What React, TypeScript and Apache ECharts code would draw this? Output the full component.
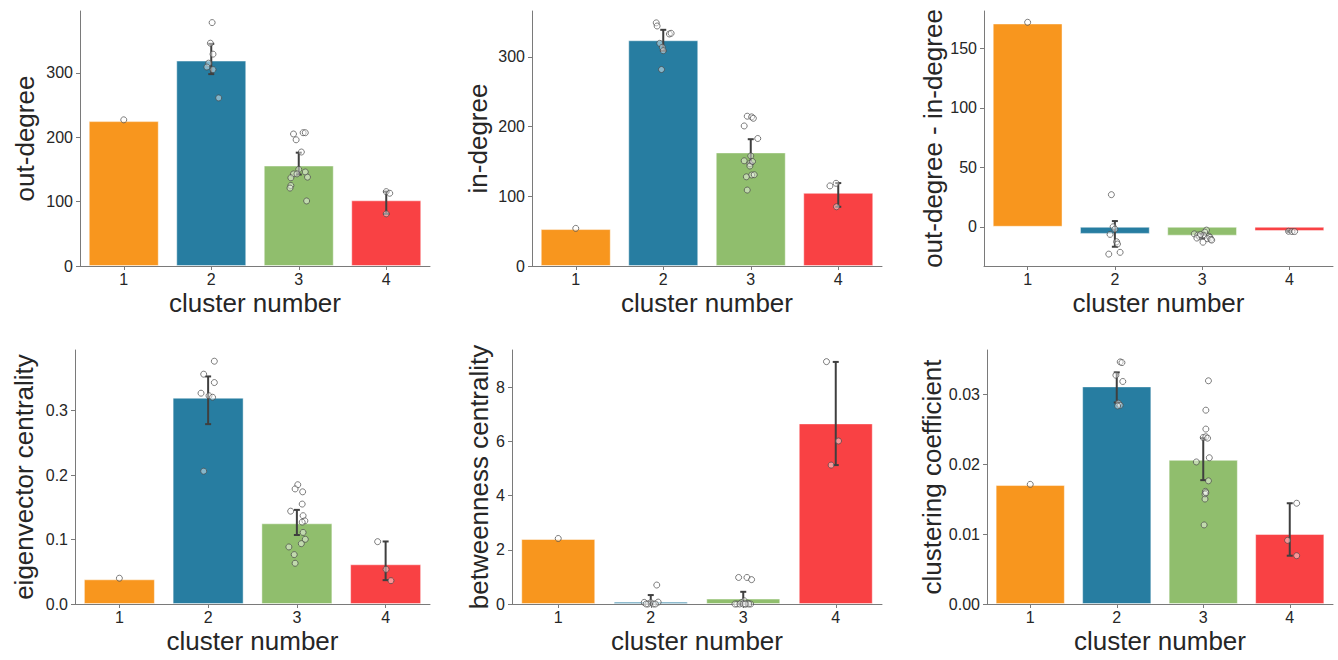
import React, { useEffect, useRef } from "react";
import * as echarts from "echarts";

const categories = ["1", "2", "3", "4"];
const barColors = ["#F8961E", "#277DA1", "#90BE6D", "#F94144"];

// out-degree
const outMeans = [225, 319, 156, 102];
const outLo = [null, 298, 142, 81];
const outHi = [null, 345, 176, 115.5];
const outPts = [[227], [378, 346, 329, 315, 309, 305, 261], [205, 196, 207, 207, 177, 150, 143, 137, 143, 146, 138, 125, 121, 101], [115.5, 113, 81]];
const outJit = [[0], [0.01, -0.01, 0.02, -0.03, -0.05, 0.02, 0.085], [-0.06, -0.03, 0.05, 0.075, 0.03, 0, -0.06, -0.09, -0.02, 0.075, 0.1, -0.09, -0.1, 0.09], [0, 0.04, 0]];
const outTicks = [0, 100, 200, 300];

// in-degree
const inMeans = [53, 324, 163, 105];
const inLo = [null, 309, 147, 85];
const inHi = [null, 339, 182, 119];
const inPts = [[54], [349, 344.5, 333, 334, 319.6, 314, 309, 282], [215, 214, 212, 201, 183, 158, 151, 147, 143.5, 130.6, 131, 109, 150, 128], [115, 118.7, 85]];
const inJit = [[0], [-0.08, -0.07, 0.07, 0.09, -0.04, -0.01, 0, -0.02], [-0.04, 0.01, 0.03, -0.075, 0.08, 0, -0.075, -0.01, -0.01, 0.01, 0.04, -0.04, 0.02, -0.05], [-0.095, -0.025, -0.02]];
const inTicks = [0, 100, 200, 300];

// out-degree - in-degree
const diffMeans = [171, -6, -7.5, -3.6];
const diffLo = [null, -16.8, -9.5, -4.2];
const diffHi = [null, 4.8, -6, -3.2];
const diffPts = [[172], [27, 0, -6.4, -12.6, -14.5, -23, -21.5, -2], [-2.8, -4.5, -6, -7, -7.5, -8, -8.4, -9, -9.5, -10, -10.6, -11.2, -13, -6.5], [-3.8, -4, -4]];
const diffJit = [[0], [-0.04, -0.02, -0.055, 0.02, 0.03, -0.07, 0.06, 0], [0.05, 0.03, -0.09, -0.05, 0.02, 0.08, -0.03, 0.09, -0.06, 0.06, 0.1, 0.11, 0.01, -0.02], [-0.01, 0.03, 0.06]];
const diffTicks = [0, 50, 100, 150];

// eigenvector centrality
const eigMeans = [0.0383, 0.32, 0.1252, 0.0616];
const eigLo = [null, 0.279, 0.107, 0.037];
const eigHi = [null, 0.353, 0.146, 0.097];
const eigPts = [[0.04], [0.3766, 0.3565, 0.3435, 0.327, 0.323, 0.3207, 0.206], [0.185, 0.1785, 0.174, 0.155, 0.144, 0.137, 0.129, 0.127, 0.111, 0.1004, 0.0936, 0.0885, 0.0766, 0.0632], [0.0967, 0.0538, 0.0362]];
const eigJit = [[0], [0.07, -0.05, 0.07, -0.08, 0.01, 0.05, -0.05], [0.01, -0.02, 0.065, 0.06, -0.07, 0.07, 0.09, 0.06, 0.07, 0.095, 0.05, -0.09, -0.03, -0.02], [-0.09, 0.005, 0.06]];
const eigTicks = [0, 0.1, 0.2, 0.3];

// betweenness centrality
const betMeans = [2.4, 0.085, 0.2, 6.67];
const betLo = [null, 0, 0, 5.13];
const betHi = [null, 0.33, 0.45, 8.94];
const betPts = [[2.42], [0.7, 0.06, 0.07, 0.05, 0, 0, 0, 0], [0.98, 0.98, 0.9, 0.12, 0.05, 0.03, 0, 0, 0, 0, 0, 0, 0, 0], [8.95, 6.02, 5.13]];
const betJit = [[0], [0.065, -0.07, 0.08, 0, -0.03, 0.03, 0.05, -0.05], [-0.05, 0.04, 0.09, 0.01, -0.02, 0.05, -0.07, 0.03, 0.08, -0.04, 0, 0.06, -0.09, 0.02], [-0.1, 0.03, -0.05]];
const betTicks = [0, 2, 4, 6, 8];

// clustering coefficient
const ccMeans = [0.017, 0.0311, 0.0206, 0.01];
const ccLo = [null, 0.0288, 0.0177, 0.0069];
const ccHi = [null, 0.0331, 0.0237, 0.0144];
const ccPts = [[0.0171], [0.0346, 0.0345, 0.0327, 0.0318, 0.0287, 0.0284, 0.0283], [0.0319, 0.0277, 0.025, 0.0238, 0.0239, 0.0237, 0.0209, 0.0203, 0.0176, 0.0161, 0.0157, 0.015, 0.0113, 0.0159], [0.0144, 0.0091, 0.0069]];
const ccJit = [[0], [0.04, 0.06, -0.01, 0.07, 0.02, 0.04, 0.01], [0.06, 0.03, 0.03, 0, 0.03, 0.05, 0.07, -0.08, 0.06, 0.025, 0.02, 0.02, 0.01, 0.03], [0.08, -0.025, 0.08]];
const ccTicks = [0, 0.01, 0.02, 0.03];

const xName = "cluster number";

const panels = [
  { name: "out-degree", means: outMeans, lo: outLo, hi: outHi, pts: outPts, jit: outJit, ticks: outTicks, min: 0, max: 396, dec: 0 },
  { name: "in-degree", means: inMeans, lo: inLo, hi: inHi, pts: inPts, jit: inJit, ticks: inTicks, min: 0, max: 366, dec: 0 },
  { name: "out-degree - in-degree", means: diffMeans, lo: diffLo, hi: diffHi, pts: diffPts, jit: diffJit, ticks: diffTicks, min: -33, max: 181.5, dec: 0 },
  { name: "eigenvector centrality", means: eigMeans, lo: eigLo, hi: eigHi, pts: eigPts, jit: eigJit, ticks: eigTicks, min: 0, max: 0.394, dec: 1 },
  { name: "betweenness centrality", means: betMeans, lo: betLo, hi: betHi, pts: betPts, jit: betJit, ticks: betTicks, min: 0, max: 9.38, dec: 0 },
  { name: "clustering coefficient", means: ccMeans, lo: ccLo, hi: ccHi, pts: ccPts, jit: ccJit, ticks: ccTicks, min: 0, max: 0.0363, dec: 2 },
];

const layout = [
  { left: 80, top: 11, width: 350, height: 255, nameGap: 42 },
  { left: 532, top: 11, width: 350, height: 255, nameGap: 41 },
  { left: 984, top: 11, width: 349, height: 255, nameGap: 37 },
  { left: 75, top: 350, width: 355, height: 254, nameGap: 38 },
  { left: 512, top: 350, width: 370, height: 254, nameGap: 20 },
  { left: 987, top: 350, width: 346, height: 254, nameGap: 41 },
];

const FONT = "'Liberation Sans', Arial, sans-serif";
const AXIS_COLOR = "#7a7a7a";
const TEXT_COLOR = "#262626";

function buildOption() {
  const grid: any[] = [];
  const xAxis: any[] = [];
  const yAxis: any[] = [];
  const series: any[] = [];
  panels.forEach((p, i) => {
    const L = layout[i];
    grid.push({ left: L.left, top: L.top, width: L.width, height: L.height, containLabel: false });
    xAxis.push({
      type: "category",
      gridIndex: i,
      data: categories,
      boundaryGap: true,
      position: "bottom",
      name: xName,
      nameLocation: "middle",
      nameGap: 24,
      nameTextStyle: { fontSize: 26, color: TEXT_COLOR, fontFamily: FONT },
      axisLine: { show: true, onZero: false, lineStyle: { color: AXIS_COLOR, width: 1 } },
      axisTick: { show: true, alignWithLabel: true, length: 4, lineStyle: { color: AXIS_COLOR } },
      axisLabel: { fontSize: 16, color: TEXT_COLOR, fontFamily: FONT, margin: 5 },
      splitLine: { show: false },
    });
    xAxis.push({ type: "value", gridIndex: i, min: 0.5, max: 4.5, show: false, axisLine: { onZero: false } });
    yAxis.push({
      type: "value",
      gridIndex: i,
      min: p.min,
      max: p.max,
      name: p.name,
      nameLocation: "middle",
      nameGap: L.nameGap,
      nameRotate: 90,
      nameTextStyle: { fontSize: 26, color: TEXT_COLOR, fontFamily: FONT },
      axisLine: { show: true, onZero: false, lineStyle: { color: AXIS_COLOR, width: 1 } },
      axisTick: { show: true, length: 4, lineStyle: { color: AXIS_COLOR }, customValues: p.ticks },
      axisLabel: {
        fontSize: 16,
        color: TEXT_COLOR,
        fontFamily: FONT,
        margin: 7,
        customValues: p.ticks,
        formatter: (v: number) => v.toFixed(p.dec),
      },
      splitLine: { show: false },
    });
    series.push({
      type: "bar",
      xAxisIndex: i * 2,
      yAxisIndex: i,
      barWidth: "80%",
      data: p.means.map((v, k) => ({
        value: v,
        itemStyle: { color: barColors[k], borderColor: "rgba(255,255,255,0.45)", borderWidth: 1 },
      })),
      z: 1,
    });
    const errData: any[] = [];
    p.lo.forEach((lo, k) => {
      if (lo !== null && p.hi[k] !== null) errData.push([k + 1, lo, p.hi[k]]);
    });
    series.push({
      type: "custom",
      xAxisIndex: i * 2 + 1,
      yAxisIndex: i,
      data: errData,
      encode: { x: 0, y: [1, 2] },
      z: 3,
      renderItem: (params: any, api: any) => {
        const x = api.value(0);
        const a = api.coord([x, api.value(1)]);
        const b = api.coord([x, api.value(2)]);
        const style = { stroke: "#3f3f3f", lineWidth: 2 };
        const cap = 3;
        return {
          type: "group",
          children: [
            { type: "line", shape: { x1: a[0], y1: a[1], x2: b[0], y2: b[1] }, style },
            { type: "line", shape: { x1: a[0] - cap, y1: a[1], x2: a[0] + cap, y2: a[1] }, style },
            { type: "line", shape: { x1: b[0] - cap, y1: b[1], x2: b[0] + cap, y2: b[1] }, style },
          ],
        };
      },
    });
    const scatterData: any[] = [];
    p.pts.forEach((arr, k) => {
      arr.forEach((v, j) => scatterData.push([k + 1 + p.jit[k][j], v]));
    });
    series.push({
      type: "scatter",
      xAxisIndex: i * 2 + 1,
      yAxisIndex: i,
      data: scatterData,
      symbol: "circle",
      symbolSize: 6,
      itemStyle: { color: "rgba(255,255,255,0.55)", borderColor: "#4a4a4a", borderWidth: 0.9 },
      z: 4,
    });
  });
  return {
    animation: false,
    backgroundColor: "#ffffff",
    textStyle: { fontFamily: FONT },
    grid,
    xAxis,
    yAxis,
    series,
  };
}

export default function App() {
  const ref = useRef<HTMLDivElement>(null);
  useEffect(() => {
    if (!ref.current) return;
    const chart = echarts.init(ref.current, null, { renderer: "svg" });
    chart.setOption(buildOption());
    return () => chart.dispose();
  }, []);
  return (
    <div
      ref={ref}
      style={{ position: "fixed", left: 0, top: 0, width: "1338px", height: "660px", background: "#fff" }}
    />
  );
}
